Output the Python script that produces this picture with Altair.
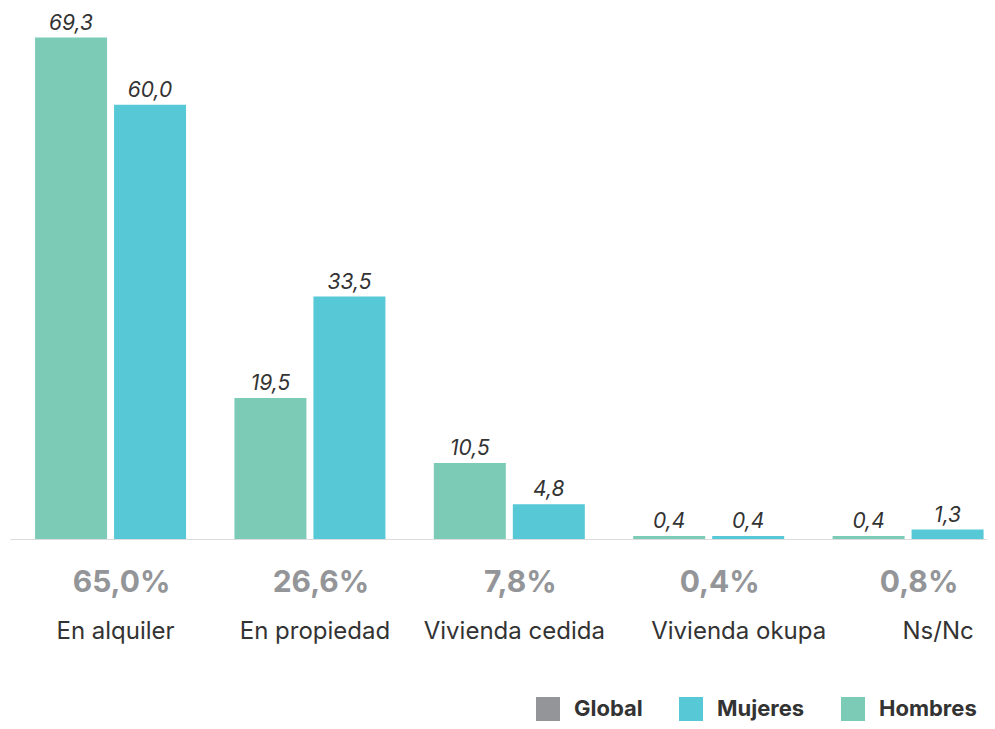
import altair as alt
import pandas as pd

categorias = ["En alquiler", "En propiedad", "Vivienda cedida", "Vivienda okupa", "Ns/Nc"]
hombres = [69.3, 19.5, 10.5, 0.4, 0.4]
mujeres = [60.0, 33.5, 4.8, 0.4, 1.3]
global_total = [65.0, 26.6, 7.8, 0.4, 0.8]
series = ["Global", "Mujeres", "Hombres"]
colores = ["#939598", "#56c8d6", "#7ccbb7"]
orden_barras = ["Hombres", "Mujeres"]


def fmt(v, suf=""):
    return f"{v:.1f}".replace(".", ",") + suf


rows = []
for c, h, m in zip(categorias, hombres, mujeres):
    rows.append({"cat": c, "serie": "Hombres", "valor": h, "etiqueta": fmt(h)})
    rows.append({"cat": c, "serie": "Mujeres", "valor": m, "etiqueta": fmt(m)})
df = pd.DataFrame(rows)
gdf = pd.DataFrame({"cat": categorias, "valor": global_total,
                    "etiqueta": [fmt(g, "%") for g in global_total]})

W = 977
H = 521
FONT = "Inter"

xenc = alt.X(
    "cat:N", sort=categorias,
    scale=alt.Scale(paddingInner=0.2427, paddingOuter=0.0714, align=0.88, round=False),
    axis=alt.Axis(
        title=None, labelFont=FONT, labelFontSize=24, labelColor="#333333", labelLimit=400,
        domainColor="#dcdcdc", domainWidth=1, ticks=False, labelPadding=80,
        labelAngle=0,
        labelOffset={"condition": {"test": "datum.value == 'Vivienda okupa' || datum.value == 'Ns/Nc'",
                                   "value": 30},
                     "value": 5},
    ),
)
xoff = alt.XOffset("serie:N", sort=orden_barras,
                   scale=alt.Scale(domain=orden_barras, paddingInner=0.0886, paddingOuter=0,
                                   round=False))
yenc = alt.Y("valor:Q", scale=alt.Scale(domain=[0, 72], nice=False), axis=None)
color = alt.Color(
    "serie:N",
    scale=alt.Scale(domain=series, range=colores),
    legend=alt.Legend(
        title=None, orient="none", direction="horizontal", legendX=526, legendY=679,
        symbolType="square", symbolSize=576, symbolStrokeWidth=0, symbolOpacity=1,
        labelFont=FONT, labelFontSize=22, labelFontWeight="bold", labelColor="#333333",
        labelOffset=14, columnPadding=36, padding=0,
    ),
)

bars = alt.Chart(df).mark_bar(opacity=1).encode(x=xenc, xOffset=xoff, y=yenc, color=color)

labels = alt.Chart(df).mark_text(
    font=FONT, fontSize=21, fontStyle="italic", color="#333333", baseline="alphabetic", dy=-8
).encode(x=xenc, xOffset=xoff, y=yenc, text="etiqueta:N")

glob = alt.Chart(gdf).mark_text(
    font=FONT, fontSize=30, fontWeight="bold", color="#939598", baseline="alphabetic", dx=11
).encode(x=xenc, y=alt.value(H + 53), text="etiqueta:N")

chart = alt.layer(bars, labels, glob).properties(
    width=W, height=H,
    autosize=alt.AutoSizeParams(type="none"),
    padding={"left": 2, "top": 10, "right": 0, "bottom": 182},
).configure_view(strokeWidth=0)

chart.save("out.html", embed_options={"renderer": "svg", "actions": False})
